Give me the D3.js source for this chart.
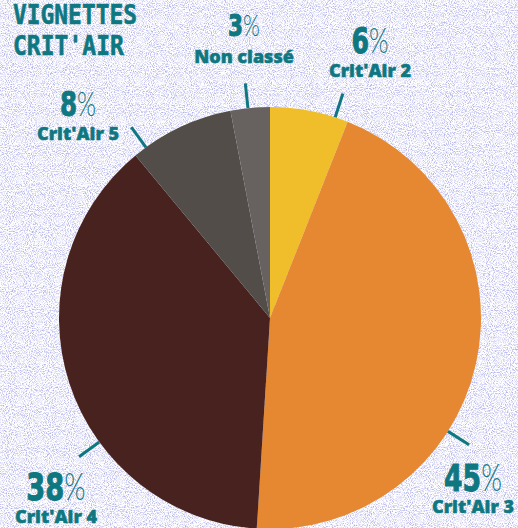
<!DOCTYPE html>
<html>
<head>
<meta charset="utf-8">
<script src="https://cdn.jsdelivr.net/npm/d3@7"></script>
<style>
  html, body { margin: 0; padding: 0; background: #fff; }
  svg { display: block; }
</style>
</head>
<body>
<div id="chart"></div>
<script>
// data
var categories = ["Crit'Air 2", "Crit'Air 3", "Crit'Air 4", "Crit'Air 5", "Non classé"];
var shares = [6, 45, 38, 8, 3];
var sliceColors = ["#f0be2a", "#e68831", "#48221f", "#524d48", "#676160"];
var titleLines = ["VIGNETTES", "CRIT'AIR"];

// label layout (tick angle in degrees, name centre x / baseline y, gap up to the % figure, its size)
var labelLayout = [
  { angle: 18,    x: 370, y: 77,  gap: 24, size: 35 },
  { angle: 122.5, x: 473, y: 513, gap: 22, size: 37 },
  { angle: 234,   x: 56,  y: 523, gap: 23, size: 38 },
  { angle: -36,   x: 78,  y: 140, gap: 24, size: 34 },
  { angle: -6,    x: 244, y: 63,  gap: 27, size: 30 }
];

var svgWidth = 518;
var svgHeight = 528;
var teal = "#0e7780";

var svg = d3.select("#chart")
  .append("svg")
  .attr("width", svgWidth)
  .attr("height", svgHeight);

// grainy lavender background
var defs = svg.append("defs");
var grain = defs.append("filter")
  .attr("id", "grain")
  .attr("x", 0).attr("y", 0)
  .attr("width", "100%").attr("height", "100%");
grain.append("feTurbulence")
  .attr("type", "fractalNoise")
  .attr("baseFrequency", 0.95)
  .attr("numOctaves", 2)
  .attr("seed", 7);
grain.append("feColorMatrix")
  .attr("type", "matrix")
  .attr("values", "0 0 0 0 0.45  0 0 0 0 0.45  0 0 0 0 0.82  3.0 0 0 0 -1.3");

svg.append("rect")
  .attr("width", svgWidth)
  .attr("height", svgHeight)
  .attr("fill", "#ffffff");
svg.append("rect")
  .attr("width", svgWidth)
  .attr("height", svgHeight)
  .attr("filter", "url(#grain)");

// pie
var cx = 270, cy = 318, radius = 211;
var pieGroup = svg.append("g")
  .attr("transform", `translate(${cx}, ${cy})`);

var pie = d3.pie().sort(null).value(d => d);
var arcs = pie(shares);
var arc = d3.arc().innerRadius(0).outerRadius(radius);

pieGroup.selectAll("path")
  .data(arcs)
  .enter()
  .append("path")
  .attr("d", arc)
  .attr("fill", (d, i) => sliceColors[i]);

// tick lines
var rad = d => d.angle * Math.PI / 180;
pieGroup.selectAll(".tick")
  .data(labelLayout)
  .enter()
  .append("line")
  .attr("class", "tick")
  .attr("x1", d => d3.pointRadial(rad(d), radius)[0])
  .attr("y1", d => d3.pointRadial(rad(d), radius)[1])
  .attr("x2", d => d3.pointRadial(rad(d), radius + 25)[0])
  .attr("y2", d => d3.pointRadial(rad(d), radius + 25)[1])
  .attr("stroke", teal)
  .attr("stroke-width", 3);

// labels
var labels = svg.selectAll(".label")
  .data(labelLayout)
  .enter()
  .append("g")
  .attr("class", "label")
  .attr("transform", d => `translate(${d.x}, ${d.y})`);

// big percentage, squeezed horizontally like a condensed face
var pct = labels.append("g")
  .attr("transform", d => `translate(0, ${-d.gap}) scale(0.72, 1)`)
  .append("text")
  .attr("text-anchor", "middle")
  .style("fill", teal)
  .style("font-size", d => d.size + "px");
pct.append("tspan")
  .style("font-family", "'DejaVu Sans', sans-serif")
  .style("font-weight", "bold")
  .style("stroke", teal)
  .style("stroke-width", 1)
  .text((d, i) => shares[i]);
pct.append("tspan")
  .style("font-family", "Lato, sans-serif")
  .style("font-weight", 300)
  .text("%");

labels.append("text")
  .attr("text-anchor", "middle")
  .style("fill", teal)
  .style("stroke", teal)
  .style("stroke-width", 0.5)
  .style("font-family", "'Open Sans', Lato, sans-serif")
  .style("font-weight", 800)
  .style("font-size", "18px")
  .text((d, i) => categories[i]);

// title
svg.selectAll(".title")
  .data(titleLines)
  .enter()
  .append("text")
  .attr("class", "title")
  .attr("x", 13)
  .attr("y", (d, i) => 24 + i * 31)
  .attr("textLength", (d, i) => i === 0 ? 124 : 111)
  .attr("lengthAdjust", "spacingAndGlyphs")
  .style("fill", teal)
  .style("stroke", teal)
  .style("stroke-width", 0.6)
  .style("font-family", "'DejaVu Sans Mono', monospace")
  .style("font-weight", "bold")
  .style("font-size", "27px")
  .text(d => d);
</script>
</body>
</html>
